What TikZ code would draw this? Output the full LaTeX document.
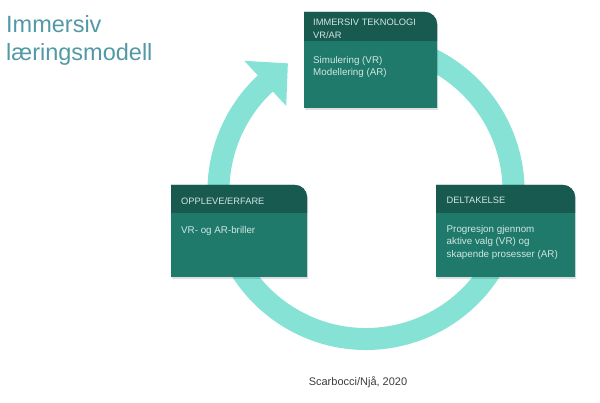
\documentclass[tikz,border=0pt]{standalone}
\usepackage{fontspec}
\setmainfont{Liberation Sans}
\usetikzlibrary{calc}
\definecolor{ringc}{RGB}{134,226,212}
\definecolor{headc}{RGB}{24,90,80}
\definecolor{bodyc}{RGB}{31,122,108}
\definecolor{boxtxt}{RGB}{210,230,226}
\definecolor{titlec}{RGB}{82,153,166}
\definecolor{footc}{RGB}{60,60,60}
\tikzset{
  ring/.style={draw=ringc,line width=22pt},
  hdtxt/.style={anchor=base west,inner sep=0pt,text=boxtxt,font=\fontsize{9.3}{11}\selectfont},
  bdtxt/.style={anchor=base west,inner sep=0pt,text=boxtxt,font=\fontsize{9.8}{12}\selectfont},
  titletxt/.style={anchor=base west,inner sep=0pt,text=titlec,font=\fontsize{23.5}{28}\selectfont},
  foottxt/.style={anchor=base,inner sep=0pt,text=footc,font=\fontsize{11}{13}\selectfont},
  shadowc/.style={fill=black,opacity=0.12}
}
% box: #1 left, #2 right, #3 bottom, #4 top, #5 header bottom
\newcommand{\tealbox}[5]{%
  \fill[shadowc] (#1+1.2,#3-1.8) -- (#1+1.2,#4-1.8) -- (#2-12+1.2,#4-1.8) arc[start angle=90,end angle=0,radius=12] -- (#2+1.2,#3-1.8) -- cycle;
  \fill[bodyc] (#1,#3) -- (#1,#4) -- (#2-12,#4) arc[start angle=90,end angle=0,radius=12] -- (#2,#3) -- cycle;
  \fill[headc] (#1,#5) -- (#1,#4) -- (#2-12,#4) arc[start angle=90,end angle=0,radius=12] -- (#2,#5) -- cycle;
}
\begin{document}
\begin{tikzpicture}[x=1pt,y=1pt]
\useasboundingbox (0,0) rectangle (600,403);
\coordinate (c) at (366,211.6);
% ring with arrow head
\draw[ring] ($(c)+(100:147.6)$) arc[start angle=100,end angle=-227.5,radius=147.6];
\fill[ringc] ($(c)+(121.4:150)$) -- ($(c)+(133:178.5)$) -- ($(c)+(133:117)$) -- cycle;
% boxes
\tealbox{304}{437}{295}{391}{362}
\tealbox{171}{307}{126}{218}{190}
\tealbox{436}{575}{126}{218}{190}
% top box text
\node[hdtxt] (t1) at (313,377.6) {IMMERSIV TEKNOLOGI};
\node[hdtxt] (t2) at (313,364.6) {VR/AR};
\node[bdtxt] (t3) at (313,339) {Simulering (VR)};
\node[bdtxt] (t4) at (313,327.5) {Modellering (AR)};
% left box text
\node[hdtxt] (l1) at (181,198.8) {OPPLEVE/ERFARE};
\node[bdtxt] (l2) at (181,169.5) {VR- og AR-briller};
% right box text
\node[hdtxt] (r1) at (446.5,199.8) {DELTAKELSE};
\node[bdtxt] (r2) at (446.5,170.5) {Progresjon gjennom};
\node[bdtxt] (r3) at (446.5,158) {aktive valg (VR) og};
\node[bdtxt] (r4) at (446.5,145.5) {skapende prosesser (AR)};
% title
\node[titletxt] (ti1) at (6,370) {Immersiv};
\node[titletxt] (ti2) at (6,342) {læringsmodell};
% footer
\node[foottxt] (f) at (358,17) {Scarbocci/Njå, 2020};
\end{tikzpicture}
\end{document}
